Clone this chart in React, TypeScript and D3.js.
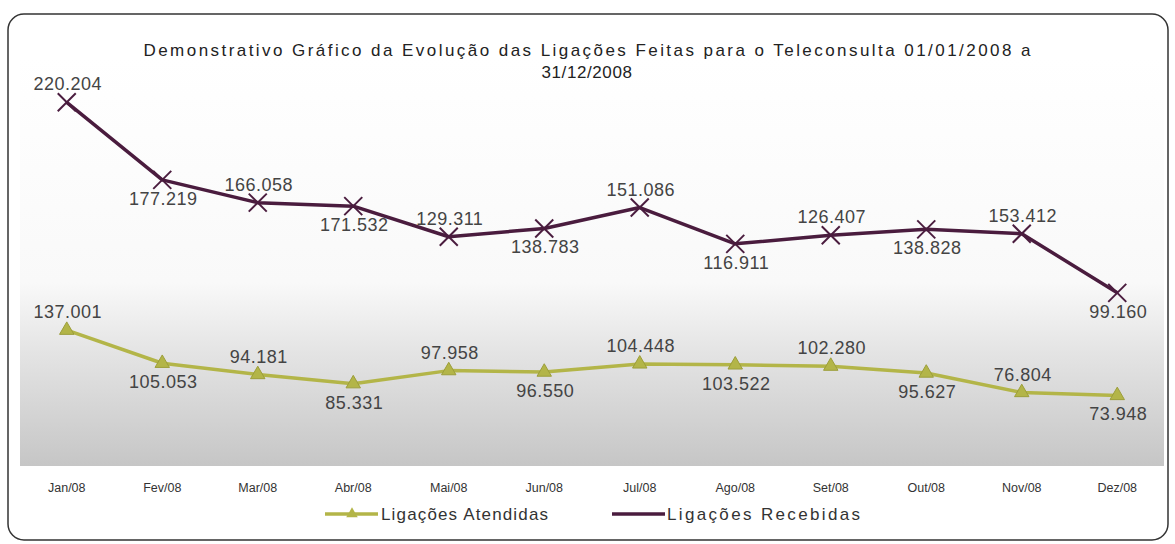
import React from 'react';
import * as d3 from 'd3';

// categories
const months = ['Jan/08', 'Fev/08', 'Mar/08', 'Abr/08', 'Mai/08', 'Jun/08', 'Jul/08', 'Ago/08', 'Set/08', 'Out/08', 'Nov/08', 'Dez/08'];

// series values (stacked line chart, as in the original)
const atendidas = [137001, 105053, 94181, 85331, 97958, 96550, 104448, 103522, 102280, 95627, 76804, 73948];
const recebidas = [220204, 177219, 166058, 171532, 129311, 138783, 151086, 116911, 126407, 138828, 153412, 99160];

const seriesKeys = ['atendidas', 'recebidas'];
const seriesNames = ['Ligações Atendidas', 'Ligações Recebidas'];
const yDomain = [0, 400000];

const titleLines = [
  'Demonstrativo Gráfico da Evolução das Ligações Feitas para o Teleconsulta 01/01/2008 a',
  '31/12/2008',
];

const W = 1175;
const H = 544;
const plot = { left: 20, right: 1164, top: 58, bottom: 466 };

const colors = { atendidas: '#b3b548', recebidas: '#4a1c3e' };
const labelFont = '"Liberation Sans", Arial, sans-serif';

const ptBr = d3.formatLocale({ decimal: ',', thousands: '.', grouping: [3], currency: ['R$', ''] });
const fmt = ptBr.format(',');

export default function App() {
  const rows = months.map((m, i) => ({ month: m, atendidas: atendidas[i], recebidas: recebidas[i] }));
  const stacked = d3.stack<any>().keys(seriesKeys)(rows);

  const x = d3.scaleBand().domain(months).range([19, 1165]).paddingInner(0).paddingOuter(0);
  const cx = (m: string) => (x(m) as number) + x.bandwidth() / 2;
  const y = d3.scaleLinear().domain(yDomain).range([472, 58]);

  const line = d3.line<any>().x(d => cx(d.data.month)).y(d => y(d[1]));

  const tri = d3.symbol().type(d3.symbolTriangle).size(90);

  return (
    <svg width={W} height={H} style={{ position: 'absolute', left: 0, top: 0, background: '#fff' }}>
      <defs>
        <linearGradient id="plotBg" x1="0" y1="0" x2="0" y2="1">
          <stop offset="0" stopColor="#ffffff" />
          <stop offset="0.55" stopColor="#f9f9f9" />
          <stop offset="0.72" stopColor="#e4e4e4" />
          <stop offset="1" stopColor="#c6c6c6" />
        </linearGradient>
      </defs>

      <rect x={8} y={14} width={1160} height={526} rx={16} fill="#fff" stroke="#333" strokeWidth={1.5} />
      <rect x={plot.left} y={plot.top} width={plot.right - plot.left} height={plot.bottom - plot.top} fill="url(#plotBg)" />

      {/* title */}
      <text x={587} y={56} textAnchor="middle" fontFamily={labelFont} fontSize={17} fill="#222" textLength={887} lengthAdjust="spacing">
        {titleLines[0]}
      </text>
      <text x={587} y={78} textAnchor="middle" fontFamily={labelFont} fontSize={17} fill="#222" letterSpacing={0.6}>
        {titleLines[1]}
      </text>

      {/* lines */}
      {stacked.map(s => (
        <path key={s.key} d={line(s) as string} fill="none" stroke={(colors as any)[s.key]} strokeWidth={3.5} strokeLinejoin="round" />
      ))}

      {/* markers */}
      {stacked[0].map((d: any) => (
        <path key={'t' + d.data.month} d={tri() as string} transform={`translate(${cx(d.data.month)},${y(d[1])})`} fill={colors.atendidas} stroke="#9c9e3a" strokeWidth={1} />
      ))}
      {stacked[1].map((d: any) => {
        const px = cx(d.data.month);
        const py = y(d[1]);
        return (
          <g key={'x' + d.data.month} stroke={colors.recebidas} strokeWidth={2}>
            <line x1={px - 9} y1={py - 9} x2={px + 9} y2={py + 9} />
            <line x1={px - 9} y1={py + 9} x2={px + 9} y2={py - 9} />
          </g>
        );
      })}

      {/* data labels: alternate above / below */}
      {stacked.map(s => s.map((d: any, i: number) => {
        const raw = (d.data as any)[s.key];
        const above = i % 2 === 0;
        return (
          <text key={s.key + 'l' + i} x={cx(d.data.month) + 1} y={y(d[1]) + (above ? -12 : 25)} textAnchor="middle" fontFamily={labelFont} fontSize={18} letterSpacing={0.5} fill="#444">
            {fmt(raw)}
          </text>
        );
      }))}

      {/* x axis labels */}
      {months.map(m => (
        <text key={m} x={cx(m)} y={492} textAnchor="middle" fontFamily={labelFont} fontSize={12.5} fill="#333">
          {m}
        </text>
      ))}

      {/* legend */}
      <g>
        <line x1={325} y1={514} x2={378} y2={514} stroke={colors.atendidas} strokeWidth={3.5} />
        <path d={tri() as string} transform="translate(352,514) scale(0.8)" fill={colors.atendidas} />
        <text x={381} y={520} fontFamily={labelFont} fontSize={17} fill="#333" textLength={167} lengthAdjust="spacing">{seriesNames[0]}</text>
        <line x1={612} y1={514} x2={665} y2={514} stroke={colors.recebidas} strokeWidth={3.5} />
        <text x={667} y={520} fontFamily={labelFont} fontSize={17} fill="#333" textLength={193} lengthAdjust="spacing">{seriesNames[1]}</text>
      </g>
    </svg>
  );
}
